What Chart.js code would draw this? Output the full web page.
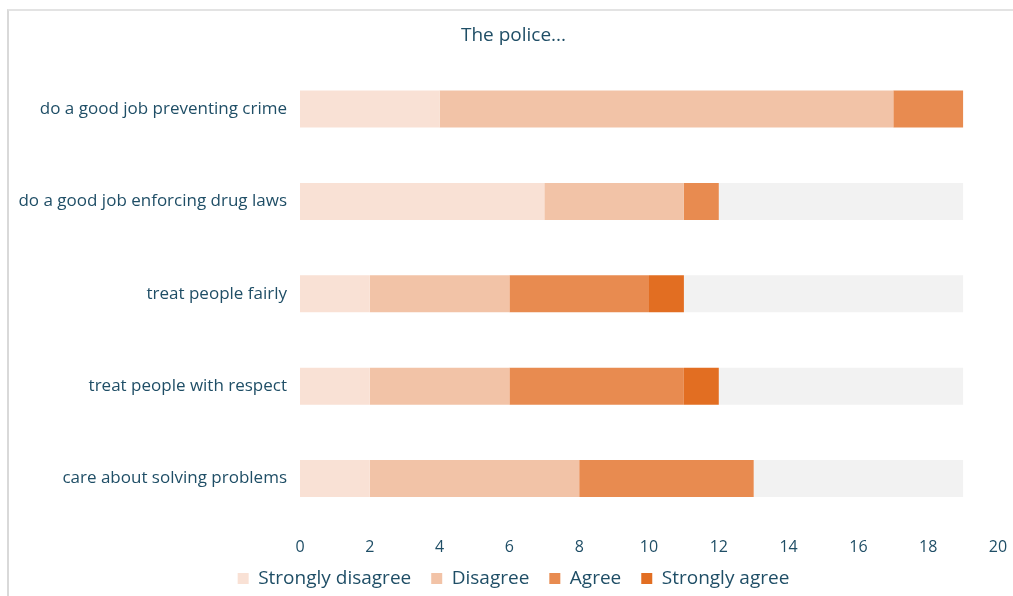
<!DOCTYPE html>
<html>
<head>
<meta charset="utf-8">
<script src="https://cdn.jsdelivr.net/npm/chart.js@4/dist/chart.umd.min.js"></script>
<style>
  body { margin: 0; background: #fff; }
  #frame { position: absolute; left: 7px; top: 9px; width: 1020px; height: 600px;
           border-left: 2px solid #d9d9d9; border-top: 2px solid #e3e3e3; }
  #wrap { position: absolute; left: 0; top: 0; width: 1013px; height: 596px; }
</style>
</head>
<body>
<div id="frame"></div>
<div id="wrap"><canvas id="mycanvas"></canvas></div>
<script>
var categorie = [
  'do a good job preventing crime',
  'do a good job enforcing drug laws',
  'treat people fairly',
  'treat people with respect',
  'care about solving problems'
];
var fortementContrario = [4, 7, 2, 2, 2];
var contrario = [13, 4, 4, 4, 6];
var favorevole = [2, 1, 4, 5, 5];
var fortementFavorevole = [0, 0, 1, 1, 0];
var resto = [0, 7, 8, 7, 6];
var xTicks = [0, 2, 4, 6, 8, 10, 12, 14, 16, 18, 20];

var testo = '#1f4e66';
var font = "'Open Sans', sans-serif";

function serie(label, data, colore) {
  return {
    label: label,
    data: data,
    backgroundColor: colore,
    borderWidth: 0,
    categoryPercentage: 1,
    barPercentage: 0.4
  };
}

var chartdata = {
  labels: categorie,
  datasets: [
    serie('Strongly disagree', fortementContrario, '#f9e1d5'),
    serie('Disagree', contrario, '#f2c3a7'),
    serie('Agree', favorevole, '#e88b50'),
    serie('Strongly agree', fortementFavorevole, '#e26e22'),
    serie('', resto, '#f2f2f2')
  ]
};

// pull the legend up close under the tick labels
var legendaSu = {
  id: 'legendaSu',
  afterLayout: function(chart) {
    chart.legend.top -= 21;
    chart.legend.bottom -= 21;
  }
};

var ctx = document.getElementById('mycanvas');

var barGraph = new Chart(ctx, {
  type: 'bar',
  data: chartdata,
  plugins: [legendaSu],
  options: {
    indexAxis: 'y',
    responsive: true,
    maintainAspectRatio: false,
    animation: false,
    layout: { padding: { top: 24, right: 0, bottom: -23, left: 14 } },
    plugins: {
      title: {
        display: true,
        text: 'The police...',
        color: testo,
        font: { family: font, size: 19, weight: 'normal' },
        padding: { top: 0, bottom: 16 }
      },
      legend: {
        position: 'bottom',
        labels: {
          color: testo,
          font: { family: font, size: 19 },
          boxWidth: 11,
          boxHeight: 11,
          padding: 20,
          filter: function(item) { return item.text !== ''; }
        }
      },
      tooltip: { enabled: false }
    },
    scales: {
      x: {
        stacked: true,
        min: 0,
        max: 20,
        afterBuildTicks: function(axis) {
          axis.ticks = xTicks.map(function(v) { return { value: v }; });
        },
        // only leave room for half of the "20" label on the right
        afterFit: function(axis) { axis.paddingRight = 15; },
        grid: { display: false, drawTicks: false },
        border: { display: false },
        ticks: {
          color: testo,
          font: { family: font, size: 16 },
          padding: 13,
          maxRotation: 0
        }
      },
      y: {
        stacked: true,
        afterFit: function(axis) { axis.width = 286; },
        grid: { display: false, drawTicks: false },
        border: { display: false },
        ticks: {
          color: testo,
          font: { family: font, size: 17 },
          padding: 13
        }
      }
    }
  }
});
</script>
</body>
</html>
